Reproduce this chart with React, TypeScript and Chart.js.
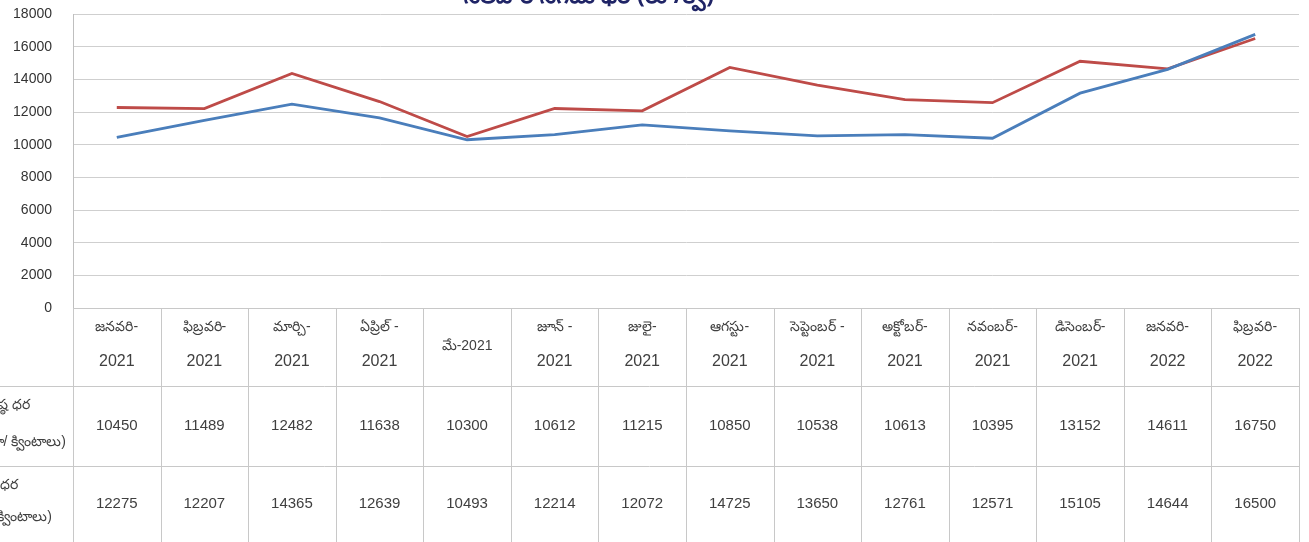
import React, { useEffect, useRef } from "react";
import { Chart, registerables } from "chart.js";

Chart.register(...registerables);

const monthLines: string[][] = [
  ["జనవరి-", "2021"],
  ["ఫిబ్రవరి-", "2021"],
  ["మార్చి-", "2021"],
  ["ఏప్రిల్ -", "2021"],
  ["మే-2021"],
  ["జూన్ -", "2021"],
  ["జులై-", "2021"],
  ["ఆగస్టు-", "2021"],
  ["సెప్టెంబర్ -", "2021"],
  ["అక్టోబర్-", "2021"],
  ["నవంబర్-", "2021"],
  ["డిసెంబర్-", "2021"],
  ["జనవరి-", "2022"],
  ["ఫిబ్రవరి-", "2022"],
];

const seriesMin = [10450, 11489, 12482, 11638, 10300, 10612, 11215, 10850, 10538, 10613, 10395, 13152, 14611, 16750];
const seriesMax = [12275, 12207, 14365, 12639, 10493, 12214, 12072, 14725, 13650, 12761, 12571, 15105, 14644, 16500];

const seriesMinLabel = ["కనిష్ఠ ధర", "(రూ/ క్వింటాలు)"];
const seriesMaxLabel = ["గరిష్ఠ ధర", "(రూ/ క్వింటాలు)"];

const titleText = "నెలవారీ సగటు ధర (రూ/క్వి)";

const yTicks = { min: 0, max: 18000, step: 2000 };

const FONT = "'Liberation Sans', 'Noto Sans', sans-serif";

const tablePlugin = {
  id: "dataTable",
  afterDraw(chart: any) {
    const ctx = chart.ctx as CanvasRenderingContext2D;
    const ca = chart.chartArea;
    const x = chart.scales.x;
    const n = monthLines.length;
    const w = (ca.right - ca.left) / n;
    const top = ca.bottom;
    const hdrBottom = top + 78;
    const row1Bottom = hdrBottom + 80;
    ctx.save();
    // title (cut off at the top edge)
    ctx.fillStyle = "#1f2466";
    ctx.font = "bold 23px 'Noto Sans', sans-serif";
    ctx.textAlign = "center";
    ctx.textBaseline = "alphabetic";
    ctx.fillText(titleText, 589, 3);

    ctx.strokeStyle = "#c8c8c8";
    ctx.lineWidth = 1;
    ctx.beginPath();
    for (let i = 0; i <= n; i++) {
      const xx = Math.round(ca.left + i * w) + 0.5;
      ctx.moveTo(xx, top);
      ctx.lineTo(xx, 542);
    }
    ctx.moveTo(ca.left, top + 0.5);
    ctx.lineTo(ca.right, top + 0.5);
    [hdrBottom, row1Bottom].forEach((yy) => {
      ctx.moveTo(0, yy + 0.5);
      ctx.lineTo(ca.right, yy + 0.5);
    });
    ctx.stroke();

    ctx.fillStyle = "#404040";
    ctx.textAlign = "center";
    ctx.textBaseline = "middle";
    for (let i = 0; i < n; i++) {
      const cx = x.getPixelForValue(i);
      const lines = monthLines[i];
      ctx.font = "14px " + FONT;
      if (lines.length === 1) {
        ctx.fillText(lines[0], cx, top + 38);
      } else {
        ctx.fillText(lines[0], cx, top + 19);
        ctx.font = "16px " + FONT;
        ctx.fillText(lines[1], cx, top + 54);
      }
      ctx.font = "15px " + FONT;
      ctx.fillText(String(seriesMin[i]), cx, hdrBottom + 40);
      ctx.fillText(String(seriesMax[i]), cx, row1Bottom + 38);
    }
    // row labels (cut at left)
    ctx.textAlign = "right";
    ctx.font = "14px " + FONT;
    ctx.fillText(seriesMinLabel[0], 30, hdrBottom + 19);
    ctx.fillText(seriesMinLabel[1], 66, hdrBottom + 56);
    ctx.fillText(seriesMaxLabel[0], 18, row1Bottom + 19);
    ctx.fillText(seriesMaxLabel[1], 52, row1Bottom + 51);
    ctx.restore();
  },
};

export default function App() {
  const ref = useRef<HTMLCanvasElement>(null);
  useEffect(() => {
    if (!ref.current) return;
    const chart = new Chart(ref.current, {
      type: "line",
      data: {
        labels: monthLines.map((l) => l.join("")),
        datasets: [
          {
            label: seriesMinLabel.join(" "),
            data: seriesMin,
            borderColor: "#4a7ebb",
            backgroundColor: "#4a7ebb",
            borderWidth: 2.8,
            pointRadius: 0,
            tension: 0,
          },
          {
            label: seriesMaxLabel.join(" "),
            data: seriesMax,
            borderColor: "#be4b48",
            backgroundColor: "#be4b48",
            borderWidth: 2.8,
            pointRadius: 0,
            tension: 0,
          },
        ],
      },
      options: {
        responsive: true,
        maintainAspectRatio: false,
        animation: false,
        layout: { padding: { top: 14, bottom: 234, left: 0, right: 10 } },
        plugins: {
          legend: { display: false },
          tooltip: { enabled: false },
          title: { display: false },
        },
        scales: {
          x: {
            display: false,
            offset: true,
          },
          y: {
            min: yTicks.min,
            max: yTicks.max,
            afterFit: (s: any) => {
              s.width = 73;
              s.paddingTop = 8;
              s.paddingBottom = 8;
            },
            ticks: {
              stepSize: yTicks.step,
              padding: 21,
              color: "#333333",
              font: { family: FONT, size: 14 },
              callback: (v: any) => String(v),
            },
            grid: { color: "#cfcfcf", drawTicks: false },
            border: { display: true, color: "#bfbfbf" },
          },
        },
      },
      plugins: [tablePlugin],
    });
    return () => chart.destroy();
  }, []);
  return (
    <div style={{ position: "fixed", left: 0, top: 0, width: 1309, height: 542, background: "#fff" }}>
      <canvas ref={ref} />
    </div>
  );
}
